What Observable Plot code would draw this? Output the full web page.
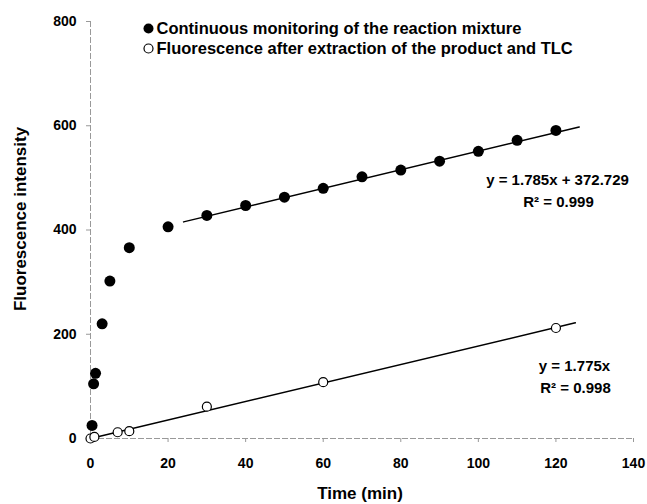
<!DOCTYPE html>
<html>
<head>
<meta charset="utf-8">
<script src="https://cdn.jsdelivr.net/npm/d3@7"></script>
<script src="https://cdn.jsdelivr.net/npm/@observablehq/plot@0.6"></script>
<style>
  html, body { margin: 0; padding: 0; background: #fff; }
  #chart { width: 647px; height: 504px; }
</style>
</head>
<body>
<div id="chart"></div>
<script>
// ---- data ----
const filledTime = [0.4, 0.8, 1.3, 3, 5, 10, 20, 30, 40, 50, 60, 70, 80, 90, 100, 110, 120];
const filledIntensity = [25, 105, 125, 220, 302, 366, 406, 428, 447, 463, 480, 502, 515, 532, 551, 572, 591];
const openTime = [0, 1, 7, 10, 30, 60, 120];
const openIntensity = [0, 3, 12, 14, 61, 108, 212];

// regression fits (as printed on the chart) and the time span each line covers
const fitSlopes = [1.785, 1.775];
const fitIntercepts = [372.729, 0];
const fitStart = [24, 0];
const fitEnd = [126, 125];

const xTicks = [0, 20, 40, 60, 80, 100, 120, 140];
const yTicks = [0, 200, 400, 600, 800];
const legendLabels = [
  "Continuous monitoring of the reaction mixture",
  "Fluorescence after extraction of the product and TLC"
];
const equationLabels = ["y = 1.785x + 372.729", "y = 1.775x"];
const r2Labels = ["R\u00B2 = 0.999", "R\u00B2 = 0.998"];

// ---- build tables ----
const filled = filledTime.map((t, i) => ({t, v: filledIntensity[i]}));
const open = openTime.map((t, i) => ({t, v: openIntensity[i]}));
const fitLines = fitSlopes.flatMap((m, k) => [fitStart[k], fitEnd[k]].map(t => ({k, t, v: m * t + fitIntercepts[k]})));

const font = "'Liberation Sans', Arial, Helvetica, sans-serif";
const T = {fill: "#000", lineAnchor: "middle"};

const chart = Plot.plot({
  width: 647,
  height: 504,
  marginLeft: 90,
  marginRight: 14,
  marginTop: 21,
  marginBottom: 66,
  style: {fontFamily: font, fontWeight: "bold", background: "#fff", color: "#000", overflow: "visible"},
  x: {domain: [0, 140], label: null},
  y: {domain: [0, 800], label: null},
  marks: [
    // axis lines (faint grey)
    Plot.ruleX([0], {stroke: "#999", strokeWidth: 1, strokeDasharray: "6,2"}),
    Plot.ruleY([0], {x1: 0, x2: 140, stroke: "#999", strokeWidth: 1, strokeDasharray: "6,2"}),
    Plot.axisX({ticks: xTicks, tickSize: 4, tickPadding: 16, fontSize: 14, stroke: "#999", fill: "#000", label: null}),
    Plot.axisY({ticks: yTicks, tickSize: 4, tickPadding: 10, fontSize: 14, stroke: "#999", fill: "#000", label: null}),
    // axis titles
    Plot.text(["Time (min)"], {...T, frameAnchor: "bottom", textAnchor: "middle", dx: -2, dy: 55, fontSize: 17}),
    Plot.text(["Fluorescence intensity"], {...T, frameAnchor: "left", textAnchor: "middle", dx: -70, dy: -11, rotate: -90, fontSize: 17}),
    // regression lines
    Plot.line(fitLines, {x: "t", y: "v", z: "k", stroke: "#000", strokeWidth: 1.5}),
    // data points
    Plot.dot(open, {x: "t", y: "v", r: 4.5, fill: "#fff", stroke: "#000", strokeWidth: 1.2}),
    Plot.dot(filled, {x: "t", y: "v", r: 5.5, fill: "#000", stroke: "none"}),
    // legend
    Plot.dot([0], {frameAnchor: "top-left", dx: 58, dy: 7, r: 5, fill: "#000", stroke: "none"}),
    Plot.dot([0], {frameAnchor: "top-left", dx: 58, dy: 27, r: 4.5, fill: "#fff", stroke: "#000", strokeWidth: 1.2}),
    Plot.text([legendLabels[0]], {...T, frameAnchor: "top-left", dx: 66, dy: 7, textAnchor: "start", fontSize: 16.5}),
    Plot.text([legendLabels[1]], {...T, frameAnchor: "top-left", dx: 66, dy: 27, textAnchor: "start", fontSize: 16.5}),
    // equations
    Plot.text([equationLabels[0]], {...T, frameAnchor: "top-left", textAnchor: "middle", dx: 467, dy: 159, fontSize: 15}),
    Plot.text([r2Labels[0]], {...T, frameAnchor: "top-left", textAnchor: "middle", dx: 468, dy: 181, fontSize: 15}),
    Plot.text([equationLabels[1]], {...T, frameAnchor: "top-left", textAnchor: "middle", dx: 484, dy: 345, fontSize: 15}),
    Plot.text([r2Labels[1]], {...T, frameAnchor: "top-left", textAnchor: "middle", dx: 485, dy: 367, fontSize: 15})
  ]
});
document.getElementById("chart").appendChild(chart);
</script>
</body>
</html>
